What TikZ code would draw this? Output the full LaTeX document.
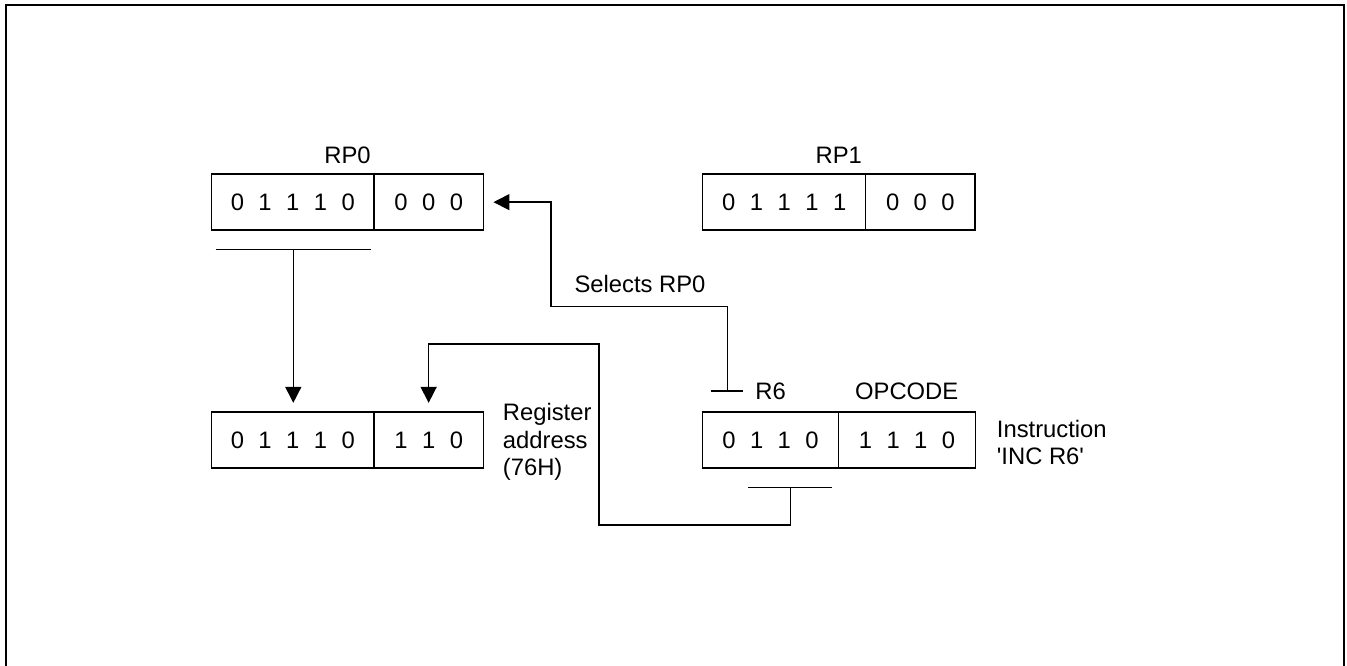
\documentclass[tikz,border=0pt]{standalone}
\usepackage{fontspec}
\newfontfamily\arialf{Liberation Sans}
\usetikzlibrary{arrows.meta}
\newcommand\lblfont{\arialf\fontsize{23.8}{27.5}\selectfont}
\newcommand\digitfont{\arialf\fontsize{23.8}{27.5}\selectfont\spaceskip=14.5pt\relax}
\begin{document}
\begin{tikzpicture}[x=1pt,y=-1pt,
  cell/.style={draw, line width=1.5pt, minimum height=56pt, inner sep=0pt, font=\digitfont},
  lbl/.style={inner sep=0pt, font=\lblfont},
  wire/.style={line width=1.5pt},
  arr/.style={wire, -{Triangle[length=16pt,width=16pt]}},
  frame/.style={line width=2.2pt}]
\useasboundingbox (0,0) rectangle (1347,666);
% frame
\coordinate (fbl) at (6,667);
\coordinate (ftl) at (6,5);
\coordinate (ftr) at (1343.8,5);
\coordinate (fbr) at (1343.8,667);
\draw[frame] (fbl) -- (ftl) -- (ftr) -- (fbr);
% registers
\node[cell, minimum width=162.3pt] (rp0a) at (292.85,202.15) {0 1 1 1 0};
\node[cell, minimum width=109.3pt] (rp0b) at (428.65,202.15) {0 0 0};
\node[cell, minimum width=163pt] (rp1a) at (784.2,202.15) {0 1 1 1 1};
\node[cell, minimum width=109.3pt] (rp1b) at (920.35,202.15) {0 0 0};
\node[cell, minimum width=162.3pt] (ra) at (292.85,440) {0 1 1 1 0};
\node[cell, minimum width=109.3pt] (rb) at (428.65,440) {1 1 0};
\node[cell, minimum width=135.6pt] (ia) at (770.5,440) {0 1 1 0};
\node[cell, minimum width=137.4pt] (ib) at (907,440) {1 1 1 0};
% labels
\node[lbl, anchor=base] (t0) at (347.5,164) {RP0};
\node[lbl, anchor=base] (t1) at (838.8,164) {RP1};
\node[lbl, anchor=base] (tr6) at (770.7,399.3) {R6};
\node[lbl, anchor=base] (topc) at (906.7,399.3) {OPCODE};
\node[lbl, anchor=base] (tsel) at (640,292.7) {Selects RP0};
\node[lbl, anchor=west, align=left] (treg) at (502.7,442) {Register\\address\\(76H)};
\node[lbl, anchor=west, align=left] (tins) at (996.7,442.3) {Instruction\\'INC R6'};
% bar under RP0 and arrow down
\coordinate (b0l) at (215.7,249.3);
\coordinate (b0r) at (371,249.3);
\coordinate (b0) at (293.3,249.3);
\draw[wire] (b0l) -- (b0r);
\draw[arr, shorten >=8.4pt] (b0) -- (b0 |- ra.north);
% selects RP0 connector
\coordinate (tsl) at (710.7,391);
\coordinate (tsr) at (743.3,391);
\coordinate (ts) at (727.7,391);
\coordinate (k1) at (551,306.7);
\draw[wire] (tsl) -- (tsr);
\draw[arr, shorten >=9.4pt] (ts) |- (k1) |- (rp0b.east);
% R6 field to register address
\coordinate (ibl) at (748.3,487.3);
\coordinate (ibr) at (832.3,487.3);
\coordinate (ib0) at (790.3,487.3);
\coordinate (k2) at (599,525);
\coordinate (k3) at (599,344);
\draw[wire] (ibl) -- (ibr);
\draw[arr, shorten >=8.4pt] (ib0) |- (k2) -- (k3) -| (rb.north);
\end{tikzpicture}
\end{document}
